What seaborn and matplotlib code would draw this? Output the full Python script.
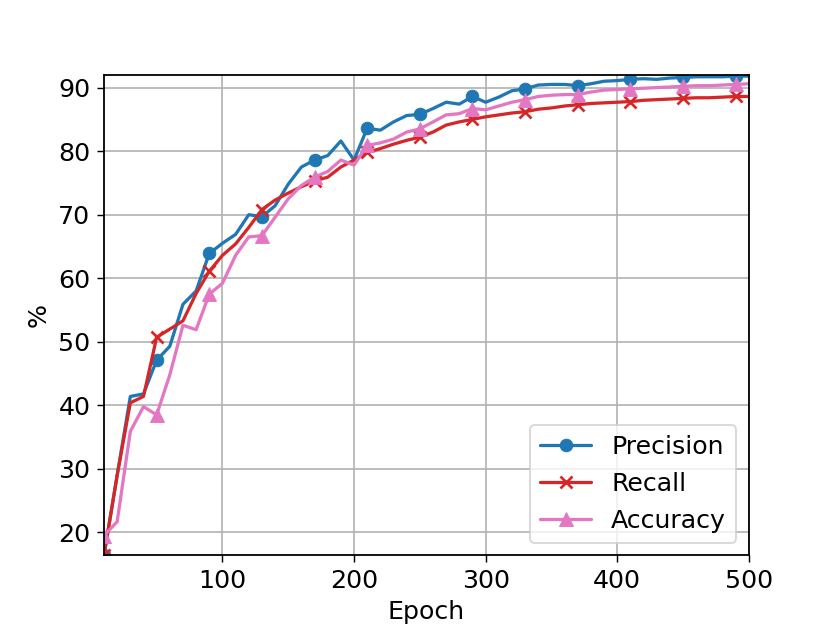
import numpy as np
import pandas as pd
import matplotlib
matplotlib.use("Agg")
import matplotlib.pyplot as plt
import seaborn as sns

# Data
epochs = list(range(10, 510, 10))

precision = [16.4, 29.0, 41.4, 41.8, 47.1, 49.3, 55.9, 58.0, 63.9, 65.5,
             66.9, 70.0, 69.7, 71.4, 74.8, 77.5, 78.6, 79.3, 81.6, 78.6,
             83.6, 83.3, 84.6, 85.6, 85.8, 86.7, 87.7, 87.4, 88.6, 87.7,
             88.5, 89.5, 89.8, 90.4, 90.5, 90.5, 90.3, 90.6, 91.0, 91.1,
             91.3, 91.4, 91.3, 91.5, 91.6, 91.7, 91.7, 91.7, 91.8, 91.8]

recall = [16.4, 29.0, 40.4, 41.4, 50.7, 52.0, 53.3, 57.6, 61.1, 63.6,
          65.4, 68.0, 70.8, 72.3, 73.4, 74.4, 75.3, 75.9, 77.5, 78.6,
          79.8, 80.4, 81.1, 81.7, 82.2, 83.0, 84.1, 84.6, 85.0, 85.4,
          85.7, 86.0, 86.2, 86.6, 86.8, 87.1, 87.3, 87.5, 87.6, 87.7,
          87.8, 88.0, 88.1, 88.2, 88.3, 88.4, 88.4, 88.5, 88.6, 88.6]

accuracy = [19.5, 21.7, 35.9, 39.8, 38.5, 44.8, 52.6, 51.9, 57.5, 59.2,
            63.6, 66.5, 66.7, 69.6, 72.5, 74.6, 75.9, 76.8, 78.6, 77.8,
            80.9, 81.3, 81.9, 83.0, 83.5, 84.6, 85.7, 85.9, 86.7, 86.5,
            87.1, 87.7, 88.1, 88.6, 88.8, 88.9, 88.9, 89.3, 89.6, 89.7,
            89.8, 89.9, 90.0, 90.1, 90.2, 90.3, 90.3, 90.4, 90.5, 90.6]

df = pd.DataFrame({"Epoch": epochs, "Precision": precision,
                   "Recall": recall, "Accuracy": accuracy})

sns.set_style("ticks", rc={"text.color": "black", "axes.labelcolor": "black",
                           "xtick.color": "black", "ytick.color": "black",
                           "axes.edgecolor": "black"})
plt.rcParams["font.family"] = ["DejaVu Sans"]

fig, ax = plt.subplots(figsize=(6.4, 4.8), dpi=130)

series = [("Precision", "tab:blue", "o", 7),
          ("Recall", "tab:red", "x", 7),
          ("Accuracy", "tab:pink", "^", 8)]
for name, col, mk, ms in series:
    sns.lineplot(data=df, x="Epoch", y=name, ax=ax, color=col,
                 marker=mk, markersize=ms, markevery=4,
                 markeredgecolor=col, markerfacecolor=col,
                 markeredgewidth=1.5 if mk == "x" else 0.5,
                 linewidth=1.8, label=name)

ax.set_xlim(10, 500)
ax.set_ylim(16.4, 92)
ax.set_xticks([100, 200, 300, 400, 500])
ax.set_yticks([20, 30, 40, 50, 60, 70, 80, 90])
ax.grid(True, color="#b0b0b0", linewidth=0.9)
ax.tick_params(labelsize=14, length=4, color="black")
for s in ax.spines.values():
    s.set_linewidth(1.0)
    s.set_color("black")
ax.set_xlabel("Epoch", fontsize=14)
ax.set_ylabel("%", fontsize=14)
ax.legend(loc="lower right", fontsize=14, framealpha=0.8)

fig.savefig("out.png", dpi=130)
